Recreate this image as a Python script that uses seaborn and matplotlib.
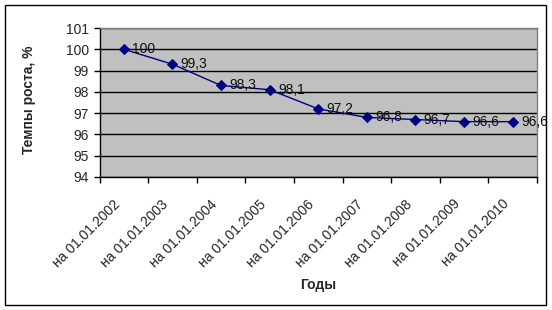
import matplotlib
matplotlib.use('Agg')
import matplotlib.pyplot as plt
import seaborn as sns
from matplotlib.patches import Rectangle
from matplotlib.transforms import ScaledTranslation

# данные с графика
dates = ['на 01.01.2002', 'на 01.01.2003', 'на 01.01.2004', 'на 01.01.2005',
         'на 01.01.2006', 'на 01.01.2007', 'на 01.01.2008', 'на 01.01.2009',
         'на 01.01.2010']
values = [100, 99.3, 98.3, 98.1, 97.2, 96.8, 96.7, 96.6, 96.6]
value_labels = ['100', '99,3', '98,3', '98,1', '97,2', '96,8', '96,7', '96,6', '96,6']
y_ticks = [94, 95, 96, 97, 98, 99, 100, 101]

sns.set_style('white')
plt.rcParams['font.family'] = ['Liberation Sans', 'DejaVu Sans']
plt.rcParams['font.size'] = 10

fig = plt.figure(figsize=(5.52, 3.10), dpi=100)
ax = fig.add_axes([99.5 / 552, 1 - 177 / 310, (537 - 99.5) / 552, (177 - 28) / 310])
ax.set_facecolor('#c0c0c0')

sns.pointplot(x=dates, y=values, color='#000080', markers='D', markersize=5,
              linewidth=1, errorbar=None, ax=ax)

for i, (v, lab) in enumerate(zip(values, value_labels)):
    ax.annotate(lab, (i, v), xytext=(6, 0), textcoords='offset points',
                va='center', ha='left', fontsize=10, color='#101010')

ax.set_xlim(-0.5, 8.5)
ax.set_ylim(94, 101)
ax.set_yticks(y_ticks)
ax.yaxis.grid(True, color='black', lw=1)
ax.set_axisbelow(True)

# засечки по границам категорий, подписи по центрам
ax.set_xticks([i - 0.5 for i in range(len(dates) + 1)])
ax.set_xticklabels([])
ax.set_xticks(range(len(dates)), labels=dates, minor=True)
ax.tick_params(axis='x', which='major', length=4.5, width=1, color='black', direction='out', bottom=True)
ax.tick_params(axis='x', which='minor', length=0, pad=18)
ax.tick_params(axis='y', length=4.5, width=1, color='black', direction='out', left=True, pad=3)
shift = ScaledTranslation(-6 / 100, 0, fig.dpi_scale_trans)
for t in ax.get_xticklabels(minor=True):
    t.set_rotation(45)
    t.set_ha('right')
    t.set_va('center')
    t.set_rotation_mode('anchor')
    t.set_transform(t.get_transform() + shift)

for s in ['left', 'bottom']:
    ax.spines[s].set_color('black')
    ax.spines[s].set_linewidth(1)
for s in ['top', 'right']:
    ax.spines[s].set_color('#808080')
    ax.spines[s].set_linewidth(1)

ax.set_xlabel('Годы', fontweight='bold', fontsize=10)
ax.set_ylabel('Темпы роста, %', fontweight='bold', fontsize=10)
ax.xaxis.set_label_coords(0.5, -0.68)
ax.yaxis.set_label_coords(-0.145, 0.52)

fig.add_artist(Rectangle((5 / 552, 1 - 305 / 310), 541 / 552, 300 / 310,
                         transform=fig.transFigure, fill=False, ec='black', lw=1))

fig.savefig('out.png', dpi=100)
